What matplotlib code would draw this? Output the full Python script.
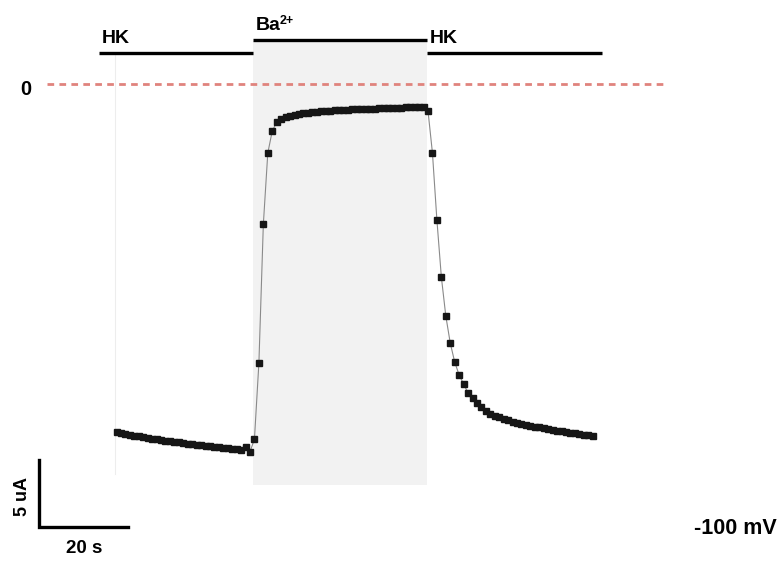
import numpy as np
import matplotlib.pyplot as plt

plt.rcParams['font.family'] = ['Liberation Sans', 'DejaVu Sans']
plt.rcParams['font.weight'] = 'bold'

# Holding current at -100 mV, one sample per second (uA)
dt = 1.0
current = [
    -25.97, -26.04, -26.12, -26.18, -26.24, -26.30, -26.36, -26.42, -26.47, -26.51,
    -26.57, -26.61, -26.66, -26.70, -26.75, -26.79, -26.84, -26.87, -26.91, -26.95,
    -26.99, -27.02, -27.06, -27.10, -27.13, -27.17, -27.21, -27.25, -27.28, -27.09,
    -27.46, -26.49, -20.82, -10.45, -5.15, -3.51, -2.84, -2.61, -2.48, -2.37,
    -2.29, -2.22, -2.17, -2.13, -2.09, -2.06, -2.03, -2.01, -1.99, -1.96,
    -1.94, -1.93, -1.91, -1.90, -1.88, -1.87, -1.85, -1.84, -1.83, -1.81,
    -1.81, -1.79, -1.78, -1.78, -1.76, -1.75, -1.75, -1.74, -1.73, -1.74,
    -2.01, -5.15, -10.15, -14.40, -17.31, -19.33, -20.75, -21.72, -22.39, -23.06,
    -23.43, -23.81, -24.10, -24.37, -24.59, -24.74, -24.87, -24.99, -25.10, -25.19,
    -25.28, -25.36, -25.43, -25.50, -25.57, -25.63, -25.69, -25.75, -25.81, -25.87,
    -25.92, -25.97, -26.02, -26.07, -26.12, -26.17, -26.22, -26.27,
]
time = np.arange(len(current)) * dt

# bath solutions: name, start (s), end (s)
solutions = ['HK', 'Ba', 'HK']
sol_start = [-3.9, 30.7, 69.8]
sol_end = [30.7, 69.8, 109.1]
sol_level = [2.31, 3.28, 2.31]

holding = '-100 mV'
bar_t, bar_i = 20, 5   # scale bar: 20 s, 5 uA

# px per unit: 4.45 px/s, 13.4 px/uA
W, H = 783, 562
x0, y0 = 116.5, 84.0
sx, sy = 4.45, 13.4

fig = plt.figure(figsize=(W / 100, H / 100), dpi=100)
ax = fig.add_axes([0, 0, 1, 1])
ax.set_xlim(-x0 / sx, (W - x0) / sx)
ax.set_ylim((y0 - H) / sy, y0 / sy)
ax.axis('off')

# Ba2+ application shading
ax.axvspan(sol_start[1], sol_end[1], ymin=(H - 485) / H, ymax=(H - 41) / H,
           color='#f2f2f2', lw=0, zorder=0)
ax.plot([-0.3, -0.3], [-29.1, 2.3], color='#ededed', lw=0.8, zorder=0)

# zero current
ax.plot([-15.6, 123.3], [0, 0], color='#e0837d', lw=2,
        linestyle=(0, (2.4, 1.9)), zorder=1)
ax.text(-20.4, -0.4, '0', ha='center', va='center', fontsize=14.5)

# solution bars
for name, a, b, lev in zip(solutions, sol_start, sol_end, sol_level):
    ax.plot([a, b], [lev, lev], color='black', lw=2.4, solid_capstyle='butt')
for name, a, lev in zip(solutions, sol_start, sol_level):
    ax.text(a + 0.5, lev + 0.75, name, ha='left', va='baseline', fontsize=14)
# charge of the barium ion
ax.text(sol_start[1] + 6.0, sol_level[1] + 1.2, '2+', ha='left',
        va='baseline', fontsize=9)

# trace
ax.plot(time, current, color='#8a8a8a', lw=0.8, zorder=2)
ax.plot(time, current, ls='none', marker='s', ms=4.2, color='#161616',
        mec='#161616', zorder=3)

# scale bar
cx, cy = -17.42, -33.06
ax.plot([cx, cx, cx + bar_t], [cy + bar_i, cy, cy], color='black', lw=2.4,
        solid_joinstyle='miter')
ax.text(cx + bar_t / 2 + 0.1, cy - 1.6, f'{bar_t} s', ha='center', va='center',
        fontsize=13.5)
ax.text(cx - 3.8, cy + bar_i / 2 - 0.2, f'{bar_i} uA', ha='center', va='center',
        rotation=90, fontsize=13)

ax.text((777 - x0) / sx, (y0 - 529) / sy, holding, ha='right', va='center',
        fontsize=15.5)

fig.savefig('out.png', dpi=100, facecolor='white')
